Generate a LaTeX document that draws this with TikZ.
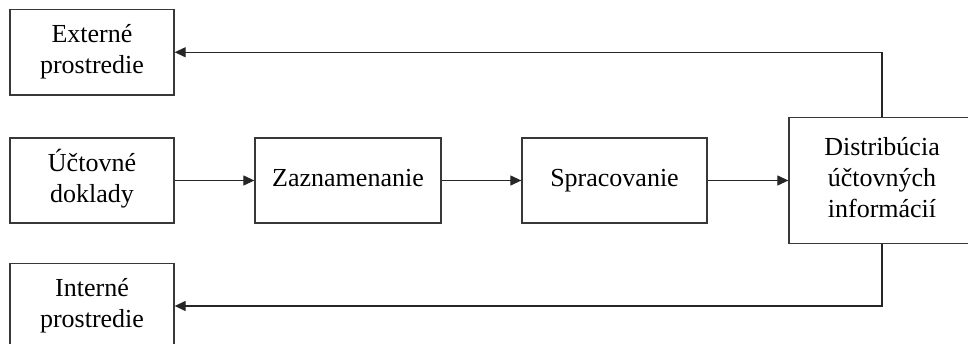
\documentclass[tikz,border=0pt]{standalone}
\usepackage{fontspec}
\setmainfont{Liberation Serif}
\usetikzlibrary{arrows.meta}
\begin{document}
\begin{tikzpicture}[x=1pt, y=-1pt,
  box/.style={draw=black!78, line width=1.3pt, rectangle, align=center,
    inner sep=0pt, font=\fontsize{26}{31}\selectfont},
  arr/.style={draw=black!85, line width=1.2pt,
    -{Triangle[length=11pt, width=10pt]}}]
  \useasboundingbox (0,0) rectangle (968,344);

  % left column
  \node[box, minimum width=164pt, minimum height=85.5pt] (ext) at (92,52.25) {\strut Externé\\\strut prostredie};
  \node[box, minimum width=164pt, minimum height=85pt]   (doc) at (92,180.5) {\strut Účtovné\\\strut doklady};
  \node[box, minimum width=164pt, minimum height=85.5pt] (int) at (92,306)   {\strut Interné\\\strut prostredie};

  % processing chain
  \node[box, minimum width=186pt, minimum height=85pt]  (zaz)  at (348,180.5)   {\strut Zaznamenanie};
  \node[box, minimum width=185pt, minimum height=85pt]  (spr)  at (614.5,180.5) {\strut Spracovanie};
  \node[box, minimum width=186pt, minimum height=126pt] (dist) at (882,180.5)   {\strut Distribúcia\\\strut účtovných\\\strut informácií};

  % flows
  \draw[arr] (doc.east) -- (zaz.west);
  \draw[arr] (zaz.east) -- (spr.west);
  \draw[arr] (spr.east) -- (dist.west);
  \draw[arr] (dist.north) |- (ext.east);
  \draw[arr] (dist.south) |- (int.east);
\end{tikzpicture}
\end{document}
